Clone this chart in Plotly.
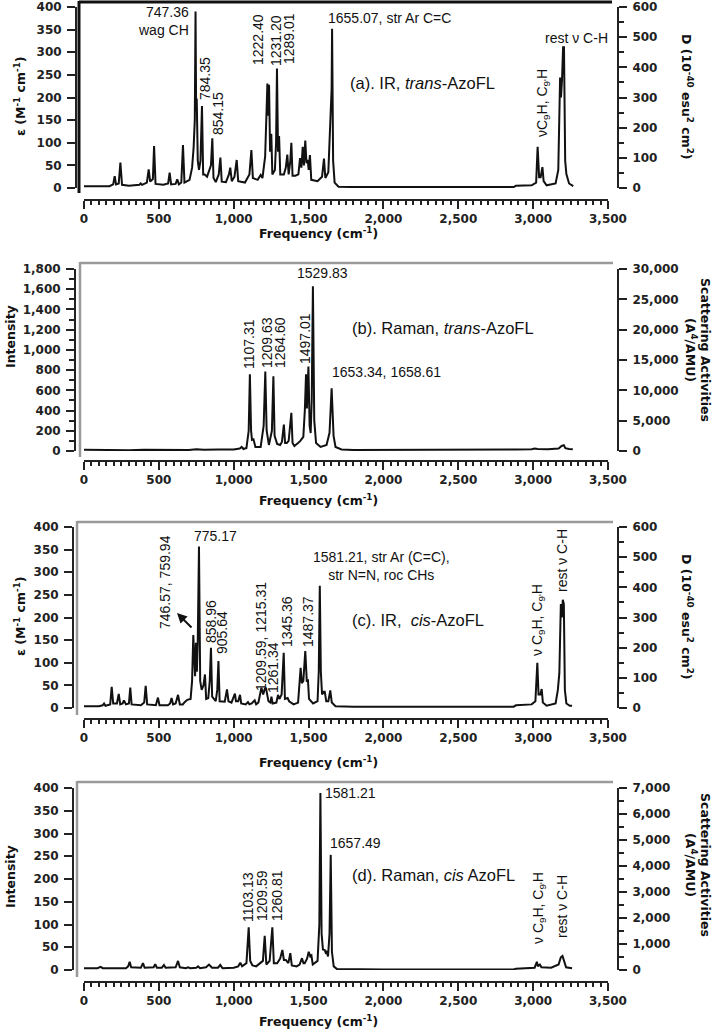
import plotly.graph_objects as go

W, H = 714, 1031

# ---------------- data ----------------
# (a) IR, trans-AzoFL : frequency (cm-1) and epsilon (M-1 cm-1)
freq_a = [0, 170, 195, 205, 214, 232, 243, 254, 300, 340, 370, 378, 388, 420, 432, 442, 460, 468, 478,
          530, 562, 572, 582, 612, 623, 634, 650, 661, 671, 705, 722, 732, 740, 745, 749, 753, 760,
          768, 778, 788, 796, 806, 822, 848, 857, 865, 880, 900, 911, 920, 948, 968, 977, 987, 1005,
          1020, 1030, 1050, 1075, 1105, 1118, 1128, 1160, 1180, 1192, 1210, 1225, 1230, 1236, 1243,
          1251, 1258, 1275, 1283, 1289, 1296, 1303, 1311, 1335, 1348, 1358, 1367, 1378, 1385, 1393,
          1412, 1432, 1443, 1452, 1461, 1469, 1478, 1486, 1494, 1501, 1509, 1518, 1560, 1590, 1603,
          1612, 1632, 1648, 1654, 1657, 1664, 1674, 1700, 1800, 2870, 2885, 2990, 3020, 3030, 3040,
          3050, 3062, 3070, 3090, 3150, 3168, 3180, 3186, 3193, 3200, 3206, 3214, 3222, 3240, 3268]
eps_a = [4, 4, 8, 26, 8, 10, 56, 7, 5, 6, 7, 10, 7, 12, 41, 14, 20, 93, 9,
         7, 10, 34, 8, 9, 19, 8, 12, 95, 12, 18, 45, 88, 150, 390, 170, 198, 60,
         40, 60, 181, 30, 30, 25, 50, 110, 22, 13, 30, 67, 14, 13, 30, 45, 15, 25,
         62, 15, 14, 12, 30, 84, 22, 18, 29, 22, 70, 231, 160, 228, 80,
         120, 30, 40, 100, 264, 80, 115, 30, 30, 45, 74, 30, 60, 100, 27,
         27, 30, 66, 45, 91, 50, 105, 55, 62, 40, 73, 18, 15, 25, 65,
         22, 35, 185, 220, 352, 60, 12, 3, 2, 2, 5, 6, 12, 91, 24,
         24, 46, 15, 6, 10, 40, 244, 200, 240, 311, 311, 60, 31, 10, 4]

# (b) Raman, trans-AzoFL : intensity
freq_b = [0, 100, 200, 300, 400, 500, 600, 700, 750, 800, 900, 1000, 1040, 1053, 1065, 1085, 1100,
          1108, 1116, 1122, 1132, 1145, 1180, 1200, 1211, 1220, 1235, 1255, 1265, 1273, 1290, 1310,
          1322, 1335, 1343, 1355, 1367, 1385, 1393, 1405, 1430, 1445, 1465, 1475, 1483, 1489, 1499,
          1507, 1514, 1521, 1529, 1538, 1550, 1580, 1620, 1640, 1654, 1667, 1680, 1720, 1800, 2000,
          2500, 2870, 2885, 2990, 3010, 3030, 3100, 3170, 3190, 3205, 3215, 3240, 3265]
int_b = [12, 10, 14, 8, 12, 9, 12, 10, 18, 12, 14, 16, 25, 40, 20, 30, 200,
         760, 200, 110, 115, 40, 40, 250, 785, 200, 60, 200, 740, 150, 70, 60,
         90, 262, 80, 80, 100, 377, 80, 50, 80, 100, 140, 400, 760, 420, 835,
         250, 178, 500, 1630, 300, 80, 40, 60, 180, 620, 150, 40, 15, 10, 10,
         10, 10, 16, 18, 24, 20, 18, 25, 50, 58, 28, 20, 18]

# (c) IR, cis-AzoFL : epsilon
freq_c = [0, 100, 125, 134, 143, 175, 185, 195, 220, 232, 242, 258, 267, 280, 300, 309, 318, 380,
          402, 412, 422, 480, 494, 504, 560, 575, 585, 595, 612, 628, 640, 660, 672, 690, 712, 722,
          730, 737, 742, 748, 754, 760, 768, 776, 786, 798, 808, 816, 830, 840, 848, 856, 866, 880,
          890, 898, 906, 940, 955, 965, 985, 1000, 1008, 1015, 1030, 1042, 1050, 1080, 1095, 1105,
          1120, 1140, 1150, 1165, 1185, 1197, 1207, 1215, 1232, 1245, 1252, 1260, 1285, 1296, 1305,
          1320, 1334, 1342, 1360, 1370, 1400, 1430, 1447, 1455, 1465, 1478, 1488, 1496, 1503, 1530,
          1560, 1568, 1575, 1582, 1590, 1600, 1608, 1618, 1632, 1645, 1655, 1680, 1800, 2870, 2885,
          2990, 3015, 3028, 3036, 3048, 3057, 3065, 3090, 3150, 3165, 3175, 3185, 3192, 3198, 3205,
          3212, 3222, 3245, 3260]
eps_c = [4, 4, 6, 10, 5, 8, 47, 10, 10, 31, 8, 10, 17, 8, 10, 45, 8, 6,
         12, 49, 8, 6, 23, 6, 6, 10, 22, 8, 10, 29, 8, 8, 13, 18, 20, 60,
         161, 120, 70, 144, 80, 150, 357, 60, 40, 50, 74, 20, 22, 60, 133, 25, 20, 15,
         40, 104, 15, 14, 41, 15, 12, 25, 32, 15, 15, 29, 10, 8, 13, 8,
         10, 17, 8, 12, 45, 30, 42, 45, 15, 12, 25, 10, 12, 29, 20,
         30, 122, 20, 22, 15, 8, 12, 89, 55, 60, 126, 60, 61, 20, 10,
         15, 80, 270, 80, 30, 36, 36, 15, 15, 39, 12, 4, 3, 3, 6,
         8, 15, 100, 30, 30, 42, 12, 5, 10, 40, 77, 230, 200, 239, 230,
         40, 10, 5, 5]

# (d) Raman, cis AzoFL : intensity
freq_d = [0, 90, 111, 125, 280, 295, 305, 315, 380, 394, 405, 465, 476, 487, 520, 534, 545, 612, 628,
          640, 680, 695, 710, 750, 762, 775, 815, 835, 855, 895, 910, 925, 1000, 1030, 1044, 1056,
          1085, 1100, 1110, 1125, 1150, 1195, 1207, 1218, 1240, 1258, 1268, 1290, 1310, 1325, 1335,
          1348, 1365, 1378, 1388, 1420, 1440, 1456, 1466, 1474, 1490, 1501, 1511, 1519, 1528, 1560,
          1572, 1579, 1587, 1596, 1608, 1614, 1620, 1630, 1640, 1648, 1656, 1668, 1690, 2000, 2870,
          2885, 3010, 3025, 3032, 3045, 3055, 3120, 3170, 3185, 3196, 3208, 3220, 3260]
int_d = [4, 4, 7, 4, 4, 8, 18, 6, 5, 15, 5, 6, 13, 5, 5, 11, 5, 6, 20,
         6, 4, 6, 4, 5, 8, 4, 6, 12, 5, 5, 11, 4, 5, 8, 16, 8,
         15, 94, 20, 10, 8, 20, 75, 12, 20, 94, 15, 15, 25, 44, 22,
         22, 15, 37, 10, 8, 12, 26, 15, 15, 25, 40, 30, 32, 12, 20,
         100, 389, 80, 45, 44, 38, 40, 30, 80, 253, 40, 8, 2, 1, 1,
         3, 5, 18, 8, 12, 6, 5, 12, 28, 31, 20, 6, 4]

# right-axis scale factors (right axis max / left axis max)
ratio_a = 600 / 400
ratio_b = 30000 / 1800
ratio_c = 600 / 400
ratio_d = 7000 / 400

x_ticks_dtick = 500

# ---------------- helpers ----------------
def fx(p):
    return p / W


def fy(p):
    return 1 - p / H


TICKFONT = dict(family="DejaVu Sans", size=12, color="#222", weight="bold")
TITLEFONT = dict(family="DejaVu Sans", size=12.5, color="#111", weight="bold")
LABFONT = dict(family="Liberation Sans, Arial", size=14, color="#111")
PANFONT = dict(family="Liberation Sans, Arial", size=16.5, color="#111")

panels = [
    dict(freq=freq_a, val=eps_a, ratio=ratio_a, lrange=400, ldt=50, lminor=None,
         rrange=600, rdt=100, rminor=50, top=7, bot=188, yax=76, xline=200),
    dict(freq=freq_b, val=int_b, ratio=ratio_b, lrange=1800, ldt=200, lminor=100,
         rrange=30000, rdt=5000, rminor=None, top=269, bot=451, yax=75, xline=461),
    dict(freq=freq_c, val=eps_c, ratio=ratio_c, lrange=400, ldt=50, lminor=None,
         rrange=600, rdt=100, rminor=50, top=527, bot=708, yax=73, xline=719),
    dict(freq=freq_d, val=int_d, ratio=ratio_d, lrange=400, ldt=50, lminor=None,
         rrange=7000, rdt=1000, rminor=500, top=788, bot=970, yax=73, xline=982),
]

fig = go.Figure()
layout = {}
XDOM = [fx(84), fx(608)]
RIGHT_X = fx(618)

for i, p in enumerate(panels):
    k = i + 1
    xname = "x" if k == 1 else f"x{k}"
    yl = 2 * k - 1
    yr = 2 * k
    ylname = "y" if yl == 1 else f"y{yl}"
    yrname = f"y{yr}"

    fig.add_trace(go.Scatter(x=p["freq"], y=p["val"], mode="lines",
                             line=dict(color="#111", width=2),
                             xaxis=xname, yaxis=ylname, hoverinfo="skip", showlegend=False))
    fig.add_trace(go.Scatter(x=p["freq"], y=[v * p["ratio"] for v in p["val"]], mode="lines",
                             line=dict(color="rgba(0,0,0,0)", width=0), opacity=0,
                             xaxis=xname, yaxis=yrname, hoverinfo="skip", showlegend=False))

    common = dict(showline=True, linewidth=2, linecolor="#222", ticks="outside",
                  tickwidth=2, tickcolor="#222", ticklen=8, showgrid=False, zeroline=False,
                  tickfont=TICKFONT, tickformat=",", automargin=False)

    layout["xaxis" if k == 1 else f"xaxis{k}"] = dict(
        common, domain=XDOM, range=[0, 3500], dtick=x_ticks_dtick, tick0=0,
        anchor="free", position=fy(p["xline"]), ticklabelstandoff=0,
        minor=dict(dtick=50, tick0=0, ticks="outside", ticklen=4, tickwidth=1.5, tickcolor="#222"))

    ldict = dict(common, domain=[fy(p["bot"]), fy(p["top"])], range=[0, p["lrange"]],
                 dtick=p["ldt"], tick0=0, anchor="free", position=fx(p["yax"]), side="left",
                 ticklabelstandoff=3)
    if p["lminor"]:
        ldict["minor"] = dict(dtick=p["lminor"], tick0=0, ticks="outside", ticklen=5,
                              tickwidth=1.5, tickcolor="#222")
    layout["yaxis" if yl == 1 else f"yaxis{yl}"] = ldict

    rdict = dict(common, range=[0, p["rrange"]], dtick=p["rdt"], tick0=0, anchor="free",
                 position=RIGHT_X, side="right", overlaying=ylname, ticklabelstandoff=3)
    if p["rminor"]:
        rdict["minor"] = dict(dtick=p["rminor"], tick0=0, ticks="outside", ticklen=5,
                              tickwidth=1.5, tickcolor="#222")
    layout[f"yaxis{yr}"] = rdict

# frames around plot areas
shapes = []
frames = [
    (2, 79, 612, 193, "#111", 3),
    (263, 80, 613, 457, "#9a9a9a", 2.5),
    (522, 77, 613, 715, "#9a9a9a", 2.5),
    (782, 77, 613, 977, "#9a9a9a", 2.5),
]
for (ytop, xl, xr, yb, col, w) in frames:
    shapes.append(dict(type="line", xref="paper", yref="paper", x0=fx(xl), x1=fx(xr),
                       y0=fy(ytop), y1=fy(ytop), line=dict(color=col, width=w)))
    shapes.append(dict(type="line", xref="paper", yref="paper", x0=fx(xl), x1=fx(xl),
                       y0=fy(ytop - 1), y1=fy(yb), line=dict(color=col, width=w)))

ann = []


def text(t, x, y, xa="center", ya="middle", angle=0, font=LABFONT, align="center"):
    ann.append(dict(text=t, x=fx(x), y=fy(y), xref="paper", yref="paper", xanchor=xa,
                    yanchor=ya, textangle=angle, showarrow=False, font=font, align=align))


def vlab(t, x, y):
    text(t, x, y, angle=-90)


# axis titles
for yc in (97, 617):
    text("ε (M<sup>-1</sup> cm<sup>-1</sup>)", 20, yc, angle=-90, font=TITLEFONT)
    text("D (10<sup>-40</sup> esu<sup>2</sup> cm<sup>2</sup>)", 687, yc, angle=90, font=TITLEFONT)
for yc in (337, 877):
    text("Intensity", 10, yc, angle=-90, font=TITLEFONT)
for yc in (350, 865):
    text("Scattering Activities", 706, yc, angle=90, font=TITLEFONT)
    text("(A<sup>4</sup>/AMU)", 691, yc, angle=90, font=TITLEFONT)
for yc in (233, 500, 762, 1021):
    text("Frequency (cm<sup>-1</sup>)", 318, yc, font=TITLEFONT)

# (a)
text("747.36<br>wag CH", 191, 21, xa="right", align="right")
vlab("784.35", 205, 78)
vlab("854.15", 218, 114)
vlab("1222.40", 258, 40)
vlab("1231.20", 276, 41)
vlab("1289.01", 289, 39)
text("1655.07, str Ar C=C", 326, 18, xa="left")
text("(a). IR, <i>trans</i>-AzoFL", 348, 83, xa="left", font=PANFONT)
text("rest ν C-H", 610, 38, xa="right")
vlab("νC<sub>9</sub>H, C<sub>9'</sub>H", 543, 103)

# (b)
text("1529.83", 322, 273)
vlab("1107.31", 249, 344)
vlab("1209.63", 267, 343)
vlab("1264.60", 280, 343)
vlab("1497.01", 305, 339)
text("1653.34, 1658.61", 330, 372, xa="left")
text("(b). Raman, <i>trans</i>-AzoFL", 350, 328, xa="left", font=PANFONT)

# (c)
text("775.17", 215, 536)
vlab("746.57, 759.94", 165, 582)
ann.append(dict(x=fx(177), y=fy(613), xref="paper", yref="paper", ax=16, ay=16, text="",
                showarrow=True, arrowhead=2, arrowsize=1, arrowwidth=2, arrowcolor="#111"))
vlab("858.96", 211, 622)
vlab("905.64", 222, 633)
vlab("1209.59, 1215.31", 261, 637)
vlab("1261.34", 273, 668)
vlab("1345.36", 287, 622)
vlab("1487.37", 308, 622)
text("1581.21, str Ar (C=C),<br>str N=N, roc CHs", 381, 566)
text("(c). IR,  <i>cis</i>-AzoFL", 350, 620, xa="left", font=PANFONT)
vlab("ν C<sub>9</sub>H, C<sub>9'</sub>H", 538, 620)
vlab("rest ν C-H", 562, 561)

# (d)
text("1581.21", 323, 793, xa="left")
text("1657.49", 328, 843, xa="left")
vlab("1103.13", 248, 897)
vlab("1209.59", 262, 896)
vlab("1260.81", 277, 896)
text("(d). Raman, <i>cis</i> AzoFL", 350, 875, xa="left", font=PANFONT)
vlab("ν C<sub>9</sub>H, C<sub>9'</sub>H", 539, 908)
vlab("rest ν C-H", 562, 907)

fig.update_layout(**layout)
fig.update_layout(width=W, height=H, margin=dict(l=0, r=0, t=0, b=0),
                  paper_bgcolor="white", plot_bgcolor="white", showlegend=False,
                  shapes=shapes, annotations=ann)

fig.write_html("out.html", config={"displayModeBar": False},
               post_script="document.body.style.margin='0px';document.body.style.overflow='hidden';")
